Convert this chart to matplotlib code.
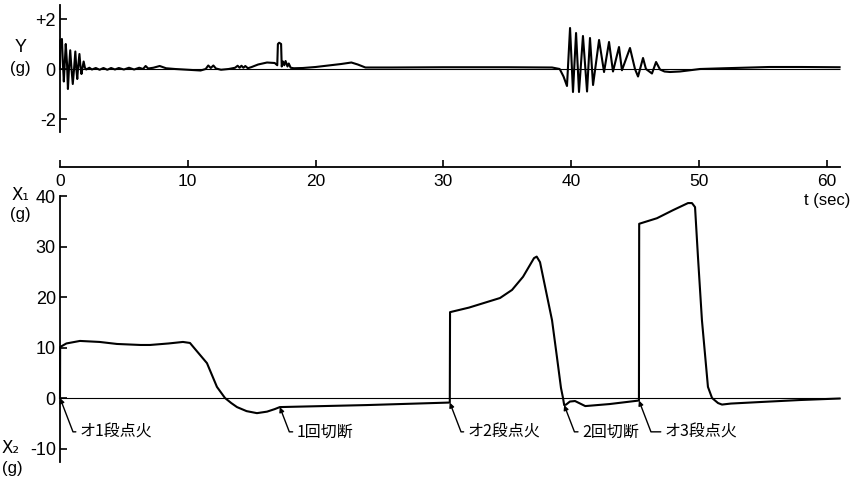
import numpy as np
import matplotlib
matplotlib.use("Agg")
import matplotlib.pyplot as plt
from matplotlib import font_manager

# lateral acceleration Y (g)
Y_T = [0.0, 0.02, 0.15, 0.22, 0.3, 0.38, 0.45, 0.55, 0.62, 0.7, 0.8, 0.9, 1.0, 1.1,
       1.2, 1.28, 1.35, 1.42, 1.52, 1.6, 1.68, 1.76, 1.85, 1.95, 2.05,
       2.3, 2.5, 2.8, 3.1, 3.4, 3.7, 4.0, 4.3, 4.6, 5.0, 5.4, 5.8, 6.2, 6.5, 6.7,
       6.9, 7.3, 7.8, 8.3, 9.0, 10.0, 11.0, 11.4, 11.6, 11.8, 12.0, 12.2, 12.6,
       13.2, 13.7, 13.9, 14.05, 14.2, 14.35, 14.5, 14.7, 15.0, 15.5, 16.2, 16.8,
       17.0, 17.05, 17.15, 17.3, 17.35, 17.45, 17.55, 17.65, 17.8, 17.9, 18.05,
       18.3, 19.0, 20.0, 21.0, 22.0, 22.8, 23.3, 23.9, 26.0, 30.0, 35.0, 38.5,
       39.1, 39.4, 39.67, 39.91, 40.14, 40.38, 40.61, 40.92, 41.24, 41.47, 41.71,
       42.18, 42.57, 42.96, 43.27, 43.74, 43.97, 44.6, 44.99, 45.23, 45.62, 45.85,
       46.32, 46.64, 46.95, 47.3, 47.73, 48.5, 49.3, 50.08, 52.0, 55.5, 58.0, 61.0]
Y_G = [0.0, 1.15, 1.2, 0.3, -0.5, 0.3, 1.0, 0.2, -0.8, 0.0, 0.75, 0.0, -0.6, 0.0,
       0.7, 0.0, -0.4, 0.1, 0.6, 0.1, -0.2, 0.05, 0.3, 0.05, -0.02,
       0.05, -0.02, 0.04, -0.03, 0.04, -0.03, 0.04, -0.02, 0.04, -0.02, 0.05, -0.02,
       0.05, 0.0, 0.12, 0.02, 0.05, 0.12, 0.03, 0.0, -0.03, -0.06, 0.0, 0.14, 0.04,
       0.14, 0.02, -0.03, 0.0, 0.05, 0.13, 0.05, 0.13, 0.05, 0.12, 0.03, 0.08, 0.18,
       0.26, 0.24, 0.15, 1.0, 1.05, 1.0, 0.1, 0.3, 0.15, 0.32, 0.1, 0.22, 0.05,
       0.03, 0.04, 0.08, 0.14, 0.2, 0.26, 0.18, 0.06, 0.06, 0.07, 0.07, 0.06,
       0.0, -0.3, -0.68, 1.64, -0.92, 1.44, -0.92, 1.32, -0.9, 1.24, -0.64,
       1.16, -0.12, 1.08, -0.1, 0.88, -0.05, 0.84, 0.0, -0.3, 0.44, 0.0,
       -0.18, 0.28, -0.02, -0.1, -0.12, -0.1, -0.05, 0.0, 0.03, 0.08, 0.08, 0.07]

# longitudinal acceleration X1 / X2 (g)
X_T = [0.0, 0.01, 0.5, 1.56, 3.1, 4.46, 6.3, 7.04, 8.5, 9.62, 10.17, 10.6, 11.5,
       12.28, 12.91, 13.4, 13.85, 14.6, 15.41, 16.2, 16.8, 17.2, 18.0, 24.0, 30.5,
       30.52, 32.0, 34.43, 35.37, 36.23, 37.09, 37.3, 37.56, 38.5, 38.89, 39.2,
       39.36, 39.45, 39.6, 39.9, 40.3, 40.7, 41.1, 43.0, 45.3,
       45.32, 46.71, 47.97, 49.14, 49.45, 49.69, 49.92, 50.23, 50.7, 51.02, 51.49,
       51.8, 52.5, 54.77, 57.9, 61.0]
X_G = [0.0, 10.1, 10.8, 11.3, 11.1, 10.7, 10.5, 10.5, 10.8, 11.1, 10.9, 9.6, 6.9,
       2.2, 0.0, -1.0, -1.8, -2.6, -3.0, -2.7, -2.2, -1.8, -1.75, -1.4, -0.9,
       17.0, 17.9, 19.8, 21.4, 24.0, 27.7, 28.0, 26.9, 15.4, 8.0, 2.0,
       0.0, -1.4, -1.3, -0.7, -0.6, -1.1, -1.6, -1.2, -0.5,
       34.5, 35.6, 37.2, 38.6, 38.6, 37.8, 27.9, 15.4, 2.2, 0.0, -1.0,
       -1.3, -1.1, -0.8, -0.4, -0.1]

EVENT_T = [0.0, 17.2, 30.5, 39.45, 45.3]
EVENT_G = [0.0, -1.8, -0.9, -1.4, -0.5]
EVENT_LABEL = ["オ1段点火", "1回切断", "オ2段点火", "2回切断", "オ3段点火"]
EVENT_DX = [20, 17, 18, 18, 26]  # px from the arrow point to the text

T_TICKS = [0, 10, 20, 30, 40, 50, 60]
T_END = 61.0

W, H = 851, 480
PX_S = 12.78     # px per second
T0 = 60          # px of t=0
XL = (-1.0, 61.5)

installed = {f.name for f in font_manager.fontManager.ttflist}
if "Liberation Sans Narrow" in installed:
    NUM_FONT = ["Liberation Sans Narrow", "DejaVu Sans"]
else:
    NUM_FONT = ["Liberation Sans", "DejaVu Sans"]
JP_FONT = ["Noto Sans CJK JP", "DejaVu Sans"]
plt.rcParams["font.family"] = NUM_FONT
plt.rcParams["axes.unicode_minus"] = False


def axes_at(top_px, height_px):
    left = T0 + XL[0] * PX_S
    width = (XL[1] - XL[0]) * PX_S
    return fig.add_axes([left / W, 1 - (top_px + height_px) / H, width / W, height_px / H])


def style_left(ax, lo, hi):
    for s in ["top", "right", "bottom"]:
        ax.spines[s].set_visible(False)
    ax.spines["left"].set_position(("data", 0))
    ax.spines["left"].set_bounds(lo, hi)
    ax.spines["left"].set_linewidth(1.3)
    ax.set_xticks([])
    ax.tick_params(axis="y", direction="in", length=5, width=1.2, labelsize=13, pad=3)
    ax.set_xlim(*XL)
    ax.patch.set_alpha(0)


fig = plt.figure(figsize=(W / 100, H / 100), dpi=100)

# top: Y
ax1 = axes_at(69 - 2.7 * 25, 5.4 * 25)
ax1.set_ylim(-2.7, 2.7)
style_left(ax1, -2.52, 2.56)
ax1.set_yticks([-2, 0, 2])
ax1.set_yticklabels(["-2", "0", "+2"])
ax1.hlines(0, 0, T_END, color="k", lw=0.8)
ax1.plot(Y_T, Y_G, color="k", lw=1.5)

# middle: time axis
axt = axes_at(150, 17)
axt.set_xlim(*XL)
axt.set_ylim(0, 1)
for s in ["top", "right", "left"]:
    axt.spines[s].set_visible(False)
axt.spines["bottom"].set_bounds(0, T_END)
axt.spines["bottom"].set_linewidth(1.3)
axt.set_yticks([])
axt.set_xticks(T_TICKS)
axt.tick_params(axis="x", direction="in", length=5, width=1.2, labelsize=12.5, pad=5)
axt.patch.set_alpha(0)

# bottom: X1 / X2
ax2 = axes_at(398 - 42 * 5.05, 56 * 5.05)
ax2.set_ylim(-14, 42)
style_left(ax2, -12.7, 40)
ax2.set_yticks([-10, 0, 10, 20, 30, 40])
ax2.hlines(0, 0, T_END, color="k", lw=0.8)
ax2.plot(X_T, X_G, color="k", lw=1.5)

for t, g, lab, dx in zip(EVENT_T, EVENT_G, EVENT_LABEL, EVENT_DX):
    ax2.annotate(lab, xy=(t, g), xytext=(t + dx / PX_S, -6.7),
                 ha="left", va="center", fontsize=11.5, family=JP_FONT,
                 arrowprops=dict(arrowstyle="-|>", mutation_scale=7, lw=1.0, color="k",
                                 connectionstyle="angle,angleA=0,angleB=111,rad=0",
                                 relpos=(0, 0.5), shrinkA=1, shrinkB=0))

# axis names
def ftext(x, y, s, **kw):
    fig.text(x / W, 1 - y / H, s, ha="center", va="center", **kw)

ftext(21, 48, "Y", fontsize=13)
ftext(20, 69, "(g)", fontsize=12)
ftext(20, 195, "X₁", fontsize=12, family=["DejaVu Sans"])
ftext(20, 214, "(g)", fontsize=12)
ftext(11, 448, "X₂", fontsize=12, family=["DejaVu Sans"])
ftext(12, 469, "(g)", fontsize=12)
fig.text(850 / W, 1 - 201 / H, "t (sec)", ha="right", va="center", fontsize=12)

fig.savefig("out.png", dpi=100)
